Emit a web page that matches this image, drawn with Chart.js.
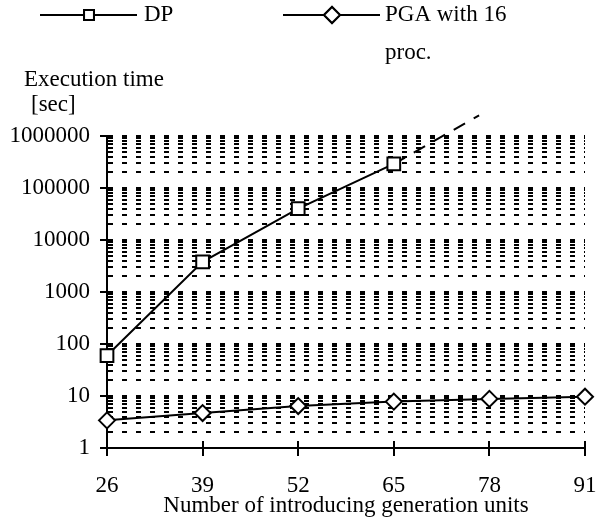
<!DOCTYPE html>
<html>
<head>
<meta charset="utf-8">
<script src="https://cdn.jsdelivr.net/npm/chart.js@4.4.1/dist/chart.umd.min.js"></script>
<style>
  html, body { margin: 0; padding: 0; background: #fff; }
  #wrap { width: 596px; height: 517px; }
</style>
</head>
<body>
<div id="wrap"><canvas id="chart" width="596" height="517"></canvas></div>
<script>
// ---- data ----
const xValues = [26, 39, 52, 65, 78, 91];
const dpTimes = [60, 3800, 40000, 290000];           // DP, only up to 65 units
const pgaTimes = [3.4, 4.7, 6.4, 7.8, 8.8, 9.7];      // PGA with 16 proc.
const dpTrendX = [65, 76.6];                          // dashed extrapolation of DP
const dpTrendY = [290000, 2500000];
const yDecades = [1, 10, 100, 1000, 10000, 100000, 1000000];
const legendLines = [['DP'], ['PGA with 16', 'proc.']];

const FONT = '"Liberation Serif", "Times New Roman", serif';

// every 1..9 x 10^k for the dotted minor grid
const yGridValues = [];
yDecades.slice(0, -1).forEach(d => {
  for (let k = 1; k < 10; k++) yGridValues.push(d * k);
});
yGridValues.push(1000000);

const toPoints = (xs, ys) => ys.map((y, i) => ({ x: xs[i], y: y }));

// legend + y title, drawn like the original (not chart.js legend)
const paperLegend = {
  id: 'paperLegend',
  afterDraw(chart) {
    const ctx = chart.ctx;
    ctx.save();
    ctx.font = '23px ' + FONT;
    ctx.fillStyle = '#000';
    ctx.textBaseline = 'middle';
    const items = [
      { x0: 40, x1: 137, mx: 89, tx: 144, ds: chart.data.datasets[0] },
      { x0: 283, x1: 380, mx: 332, tx: 385, ds: chart.data.datasets[1] }
    ];
    items.forEach((it, i) => {
      const y = 15;
      ctx.strokeStyle = '#000';
      ctx.lineWidth = 2;
      ctx.beginPath();
      ctx.moveTo(it.x0, y);
      ctx.lineTo(it.x1, y);
      ctx.stroke();
      Chart.helpers.drawPoint(ctx, {
        pointStyle: it.ds.pointStyle,
        radius: it.ds.pointStyle === 'rect' ? 7 : 8,
        borderWidth: 2
      }, it.mx, y);
      ctx.fillStyle = '#fff';
      ctx.fill();
      ctx.stroke();
      ctx.fillStyle = '#000';
      legendLines[i].forEach((t, j) => ctx.fillText(t, it.tx, y + j * 38));
    });
    ctx.fillText('Execution time', 24, 80);
    ctx.fillText('[sec]', 31, 105);
    ctx.restore();
  }
};

// tick marks that cross the axes
const crossTicks = {
  id: 'crossTicks',
  afterDraw(chart) {
    const { ctx, scales: { x, y }, chartArea } = chart;
    ctx.save();
    ctx.strokeStyle = '#000';
    ctx.lineWidth = 2;
    ctx.beginPath();
    yDecades.forEach(v => {
      const py = Math.round(y.getPixelForValue(v));
      ctx.moveTo(chartArea.left - 7, py);
      ctx.lineTo(chartArea.left + 6, py);
    });
    xValues.forEach(v => {
      const px = Math.round(x.getPixelForValue(v));
      ctx.moveTo(px, chartArea.bottom - 7);
      ctx.lineTo(px, chartArea.bottom + 8);
    });
    ctx.stroke();
    ctx.restore();
  }
};

new Chart(document.getElementById('chart').getContext('2d'), {
  type: 'line',
  data: {
    datasets: [
      {
        label: 'DP',
        data: toPoints(xValues, dpTimes),
        borderColor: '#000',
        borderWidth: 2,
        pointStyle: 'rect',
        pointRadius: 9,
        pointBorderWidth: 2,
        pointBackgroundColor: '#fff',
        pointBorderColor: '#000',
        clip: false
      },
      {
        label: 'PGA with 16 proc.',
        data: toPoints(xValues, pgaTimes),
        borderColor: '#000',
        borderWidth: 2,
        pointStyle: 'rectRot',
        pointRadius: 8,
        pointBorderWidth: 2,
        pointBackgroundColor: '#fff',
        pointBorderColor: '#000',
        clip: false
      },
      {
        label: 'DP trend',
        data: toPoints(dpTrendX, dpTrendY),
        borderColor: '#000',
        borderWidth: 2,
        borderDash: [13, 10],
        pointRadius: 0,
        clip: false
      }
    ]
  },
  options: {
    responsive: false,
    animation: false,
    layout: { padding: { top: 136, right: 9, left: 0, bottom: 0 } },
    plugins: {
      legend: { display: false },
      tooltip: { enabled: false }
    },
    scales: {
      x: {
        type: 'linear',
        min: 26,
        max: 91,
        afterBuildTicks: s => { s.ticks = xValues.map(v => ({ value: v })); },
        afterFit: s => { s.height = 69; s.paddingLeft = 0; s.paddingRight = 0; },
        grid: { display: false, drawTicks: false },
        border: { display: true, color: '#000', width: 2 },
        ticks: {
          color: '#000',
          padding: 24,
          maxRotation: 0,
          font: { family: FONT, size: 23 },
          callback: v => String(v)
        },
        title: {
          display: true,
          text: 'Number of introducing generation units',
          color: '#000',
          padding: { top: 0, bottom: 0 },
          font: { family: FONT, size: 23, lineHeight: 1 }
        }
      },
      y: {
        type: 'logarithmic',
        min: 1,
        max: 1000000,
        afterBuildTicks: s => { s.ticks = yGridValues.map(v => ({ value: v })); },
        afterFit: s => { s.width = 107; s.paddingTop = 0; s.paddingBottom = 0; },
        grid: {
          drawTicks: false,
          color: c => (c.tick && c.tick.value === 1) ? 'rgba(0,0,0,0)' : '#000',
          lineWidth: 2
        },
        border: { display: true, color: '#000', width: 2, dash: [5, 9] },
        ticks: {
          color: '#000',
          padding: 17,
          autoSkip: false,
          font: { family: FONT, size: 23 },
          callback: v => yDecades.includes(v) ? String(v) : ''
        }
      }
    }
  },
  plugins: [paperLegend, crossTicks]
});
</script>
</body>
</html>
